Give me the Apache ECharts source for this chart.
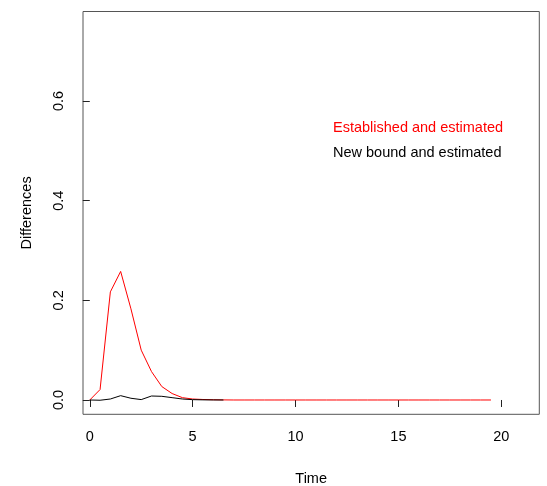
<!DOCTYPE html>
<html>
<head>
<meta charset="utf-8">
<script src="https://cdn.jsdelivr.net/npm/echarts@6/dist/echarts.min.js"></script>
<style>
html,body{margin:0;padding:0;background:#fff;}
#chart{width:547px;height:486px;}
</style>
</head>
<body>
<div id="chart"></div>
<script>
// time grid, step 0.5
var times = [0,0.5,1,1.5,2,2.5,3,3.5,4,4.5,5,5.5,6,6.5,7,7.5,8,8.5,9,9.5,
	10,10.5,11,11.5,12,12.5,13,13.5,14,14.5,15,15.5,16,16.5,17,17.5,18,18.5,19,19.5];

var established = [0,0.021,0.217,0.258,0.183,0.100,0.057,0.027,0.013,0.0047,
	0.002,0.001,0.0005,0.0002,0,0,0,0,0,0,
	0,0,0,0,0,0,0,0,0,0,
	0,0,0,0,0,0,0,0,0,0];

var newBound = [0,-0.0005,0.002,0.0087,0.0035,0.0008,0.008,0.0074,0.0047,0.002,
	0.0007,0.0003,0.0001,0];

var xTicks = [0,5,10,15,20];
var yTicks = [0,0.2,0.4,0.6];

var seriesNames = ['Established and estimated','New bound and estimated'];

function pairs(xs, ys) {
	var out = [];
	for (var i = 0; i < ys.length; i++) out.push([xs[i], ys[i]]);
	return out;
}

var font = 'Liberation Sans, Arial, Helvetica, sans-serif';

var chart = echarts.init(document.getElementById('chart'));

chart.setOption({
	animation: false,
	backgroundColor: '#fff',
	textStyle: {fontFamily: font},
	grid: {
		left: 83, top: 11.5, right: 7.7, bottom: 71.7,
		containLabel: false, outerBoundsMode: 'none',
		show: true, borderColor: '#555', borderWidth: 1, backgroundColor: 'transparent'
	},
	legend: {
		orient: 'vertical',
		left: 328, top: 120,
		padding: 0,
		icon: 'none',
		itemWidth: 0, itemHeight: 14, itemGap: 10,
		textStyle: {fontSize: 14.5, fontFamily: font, padding: 0},
		data: [
			{name: seriesNames[0], textStyle: {color: '#ff0000'}},
			{name: seriesNames[1], textStyle: {color: '#000000'}}
		]
	},
	xAxis: {
		type: 'value',
		min: -0.33, max: 21.85,
		name: 'Time', nameLocation: 'middle', nameGap: 57,
		nameTextStyle: {fontSize: 14.5, color: '#000', fontFamily: font},
		axisLine: {show: false},
		splitLine: {show: false},
		axisTick: {show: true, inside: false, length: 7, customValues: xTicks, lineStyle: {color: '#222'}},
		axisLabel: {customValues: xTicks, margin: 15, fontSize: 14.5, color: '#000', fontFamily: font}
	},
	yAxis: {
		type: 'value',
		min: -0.0287, max: 0.7796,
		name: 'Differences', nameLocation: 'middle', nameGap: 49, nameRotate: 90,
		nameTextStyle: {fontSize: 14.5, color: '#000', fontFamily: font},
		axisLine: {show: false},
		splitLine: {show: false},
		axisTick: {show: true, inside: false, length: 7, customValues: yTicks, lineStyle: {color: '#222'}},
		axisLabel: {
			customValues: yTicks, rotate: 90, margin: 17, fontSize: 14.5, color: '#000', fontFamily: font,
			formatter: function (v) { return v.toFixed(1); }
		}
	},
	series: [
		{
			name: seriesNames[0], type: 'line', data: pairs(times, established),
			showSymbol: false, symbol: 'none', color: '#ff0000',
			lineStyle: {width: 1, color: '#ff0000'}, z: 2
		},
		{
			name: seriesNames[1], type: 'line', data: pairs(times, newBound),
			showSymbol: false, symbol: 'none', color: '#000000',
			lineStyle: {width: 1, color: '#000000'}, z: 3
		}
	]
});
</script>
</body>
</html>
